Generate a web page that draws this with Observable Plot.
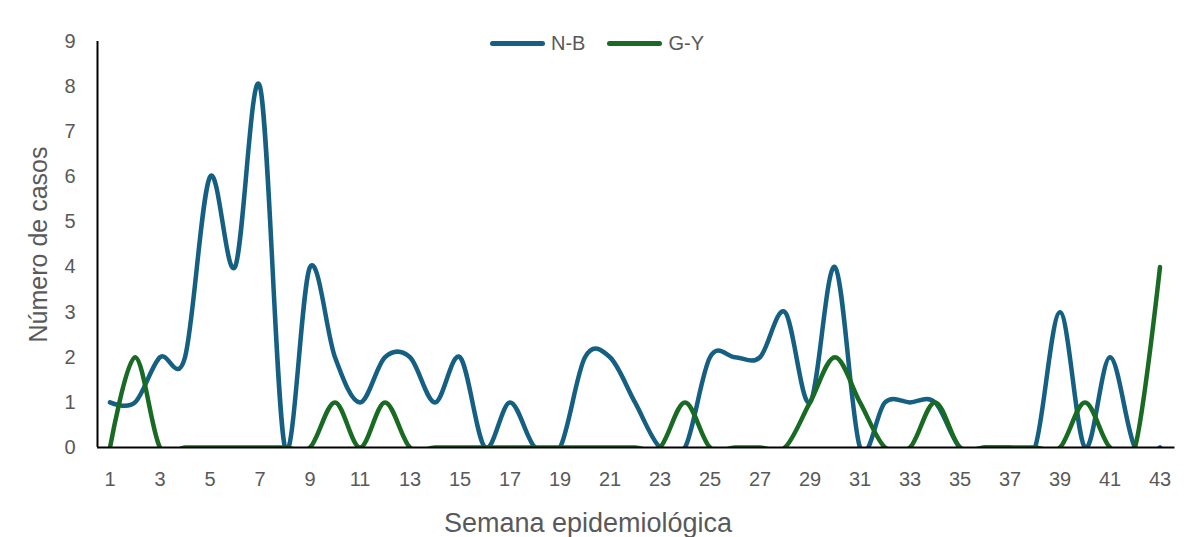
<!DOCTYPE html>
<html>
<head>
<meta charset="utf-8">
<script src="https://cdn.jsdelivr.net/npm/d3@7"></script>
<script src="https://cdn.jsdelivr.net/npm/@observablehq/plot@0.6"></script>
<style>
  html, body { margin: 0; padding: 0; background: #fff; }
  #wrap { position: relative; width: 1184px; height: 537px; }
  #legend { position: absolute; top: 32px; left: 490px; display: flex; align-items: center;
    font-family: "Liberation Sans", Arial, sans-serif; font-size: 20px; color: #595959; }
  #legend .item { display: flex; align-items: center; margin-right: 22px; }
  #legend .sw { width: 55px; height: 5px; border-radius: 3px; margin-right: 6px; }
</style>
</head>
<body>
<div id="wrap"><div id="legend"></div></div>
<script>
const weeks = d3.range(1, 44);
const seriesNames = ["N-B", "G-Y"];
const colors = ["#156082", "#196B24"];
const nb = [1,1,2,2,6,4,8,0,4,2,1,2,2,1,2,0,1,0,0,2,2,1,0,0,2,2,2,3,1,4,0,1,1,1,0,0,0,0,3,0,2,0,0];
const gy = [0,2,0,0,0,0,0,0,0,1,0,1,0,0,0,0,0,0,0,0,0,0,0,1,0,0,0,0,1,2,1,0,0,1,0,0,0,0,0,1,0,0,4];
const xTicks = weeks.filter(w => w % 2 === 1);
const yTicks = d3.range(0, 10);
const xTitle = "Semana epidemiológica";
const yTitle = "Número de casos";

const data = [];
weeks.forEach((w, i) => { data.push({week: w, value: nb[i], series: seriesNames[0]}); });
weeks.forEach((w, i) => { data.push({week: w, value: gy[i], series: seriesNames[1]}); });

const xDomain = [weeks[0] - 0.5, weeks[weeks.length - 1] + 0.5];
const font = "Liberation Sans, Arial, sans-serif";

const chart = Plot.plot({
  width: 1184,
  height: 537,
  marginLeft: 97,
  marginRight: 12,
  marginTop: 41,
  marginBottom: 90,
  x: {domain: xDomain},
  y: {domain: [0, 9]},
  color: {domain: seriesNames, range: colors},
  style: {background: "#fff", color: "#595959", fontSize: "20px", fontFamily: font},
  marks: [
    Plot.axisY({ticks: yTicks, tickSize: 0, tickPadding: 22, fontSize: 20,
      fill: "#595959", label: null}),
    Plot.axisX({ticks: xTicks, tickSize: 0, tickPadding: 24, fontSize: 20,
      fill: "#595959", label: null}),
    Plot.text([yTitle], {text: d => d, frameAnchor: "left", textAnchor: "middle", rotate: -90, dx: -59,
      fontSize: 25, fill: "#595959"}),
    Plot.text([xTitle], {text: d => d, frameAnchor: "bottom", dx: -47, dy: 84,
      fontSize: 27, fill: "#595959"}),
    Plot.line(data, {x: "week", y: "value", stroke: "series", z: "series", curve: "cardinal",
      strokeWidth: 4.5, strokeLinecap: "round", strokeLinejoin: "round", clip: true}),
    Plot.ruleX([xDomain[0]], {stroke: "#000", strokeWidth: 2}),
    Plot.ruleY([0], {stroke: "#000", strokeWidth: 2, x1: xDomain[0], x2: xDomain[1] + 0.1})
  ]
});

const wrap = document.getElementById("wrap");
wrap.insertBefore(chart, wrap.firstChild);

const legend = document.getElementById("legend");
seriesNames.forEach((s, i) => {
  const it = document.createElement("div");
  it.className = "item";
  it.innerHTML = `<span class="sw" style="background:${colors[i]}"></span><span>${s}</span>`;
  legend.appendChild(it);
});
</script>
</body>
</html>
